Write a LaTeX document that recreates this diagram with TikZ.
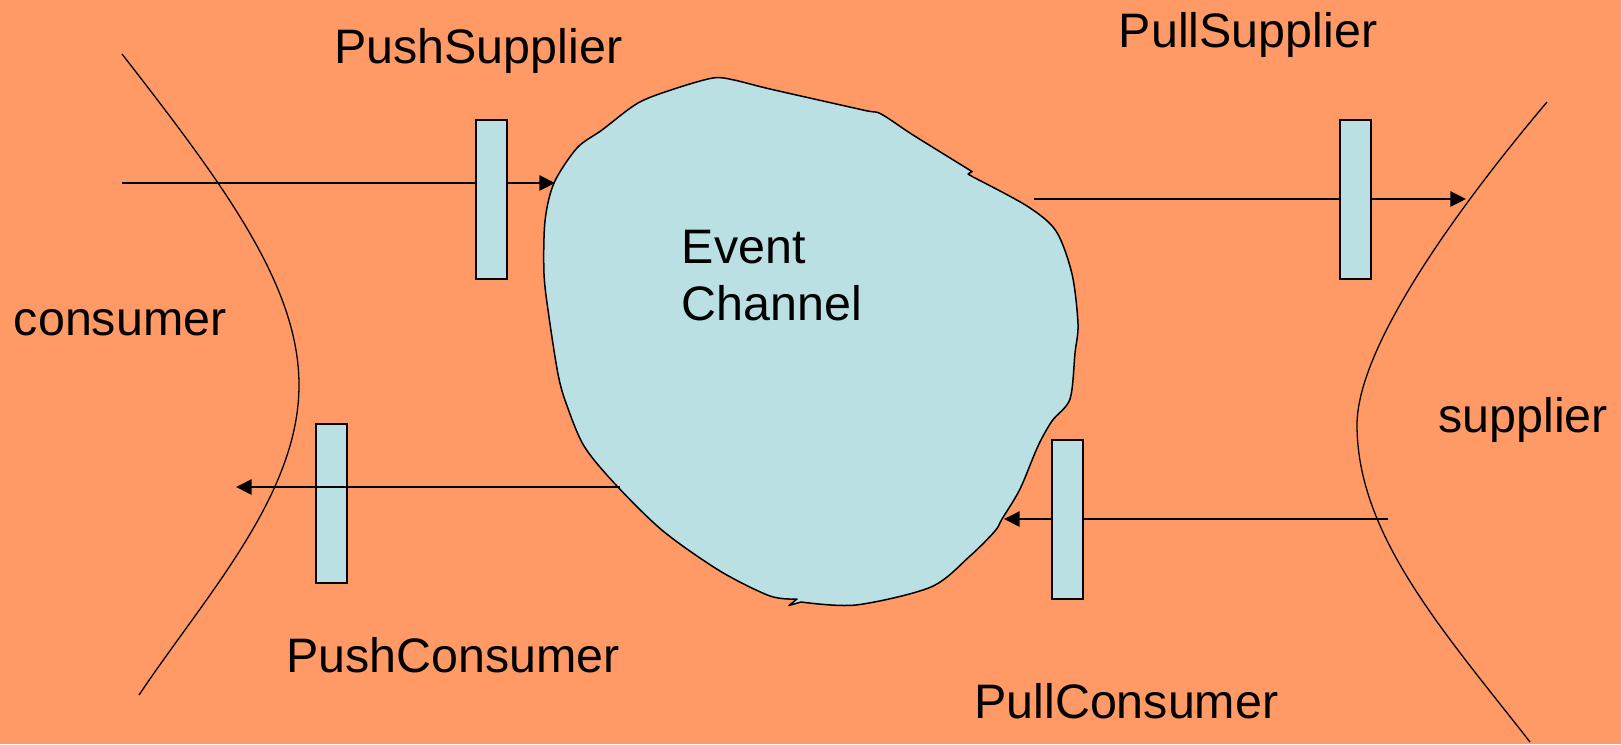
\documentclass[tikz,border=0pt]{standalone}
\usepackage{fontspec}
\setmainfont{Liberation Sans}
\usetikzlibrary{arrows.meta}
\definecolor{bgorange}{HTML}{FF9966}
\definecolor{chancyan}{HTML}{BBE0E3}
\begin{document}
\begin{tikzpicture}[x=0.5pt,y=-0.5pt,
  lbl/.style={anchor=base west, inner sep=0pt, font=\fontsize{24.2}{28.5}\selectfont},
  portbox/.style={draw=black, line width=1pt, fill=chancyan, minimum width=15.5pt, minimum height=79.5pt, inner sep=0pt},
  flow/.style={line width=0.85pt, -{Triangle[length=7.8pt,width=7.6pt]}},
  boundary/.style={line width=0.65pt},
  channel/.style={line width=0.75pt, draw=black, fill=chancyan, line join=round},
  ]
\fill[bgorange] (0,0) rectangle (1621,744);
\useasboundingbox (0,0) rectangle (1621,744);

% consumer / supplier boundaries
\draw[boundary] (122,54) .. controls (223,184) and (299,285) .. (299,385)
                .. controls (299,495) and (206,595) .. (139,695);
\draw[boundary] (1547,102) .. controls (1462.5,202) and (1357,345) .. (1357,425)
                .. controls (1357,535) and (1444,632) .. (1530,742);

% event channel (hand-drawn outline with two small notches)
\draw[channel] plot[smooth, tension=0.5] coordinates {
 (972,171.5) (913,135) (881,114) (863,110) (770,89) (734,80) (713,78) (674,89)
 (638,103) (602,130) (577,148) (554,183) (545,221) (544,274) (549,317) (558,374)
 (566,403) (584,446) (616,485) (663,531) (720,571) (770,596) (797,599)}
 -- (789,605.5)
 -- plot[smooth, tension=0.5] coordinates {
 (801,602) (856,605) (931,587) (970,556) (995,531) (1002,519) (1020,489) (1038,446)
 (1052,421) (1070,399) (1075,353) (1078,324) (1072,274) (1056,231) (1027,206)
 (973,177)}
 -- (968,174) -- cycle;
\node[lbl, align=left] (ec) at (681.5,320.7) {Event\\Channel};

% connector end points
\coordinate (psA) at (122,183);
\coordinate (psB) at (555,183);
\coordinate (plsA) at (1034,199);
\coordinate (plsB) at (1466,199);
\coordinate (pcA) at (620,487);
\coordinate (pcB) at (236,487);
\coordinate (plcA) at (1388,519);
\coordinate (plcB) at (1004,519);

\draw[flow] (psA) -- (psB);
\draw[flow] (plsA) -- (plsB);
\draw[flow] (plcA) -- (plcB);

\node[portbox] (psbox) at (491,199) {};
\node[portbox] (plsbox) at (1355,199) {};
\node[portbox] (pcbox) at (331,503) {};
\node[portbox] (plcbox) at (1067,519) {};

\draw[flow] (pcA) -- (pcB);

% labels
\node[lbl] (lps) at (334,63) {PushSupplier};
\node[lbl] (lpls) at (1118.5,47) {PullSupplier};
\node[lbl] (lcons) at (13.5,335) {consumer};
\node[lbl] (lsupp) at (1438,432) {supplier};
\node[lbl] (lpc) at (286,672) {PushConsumer};
\node[lbl] (lplc) at (974,718) {PullConsumer};
\end{tikzpicture}
\end{document}
